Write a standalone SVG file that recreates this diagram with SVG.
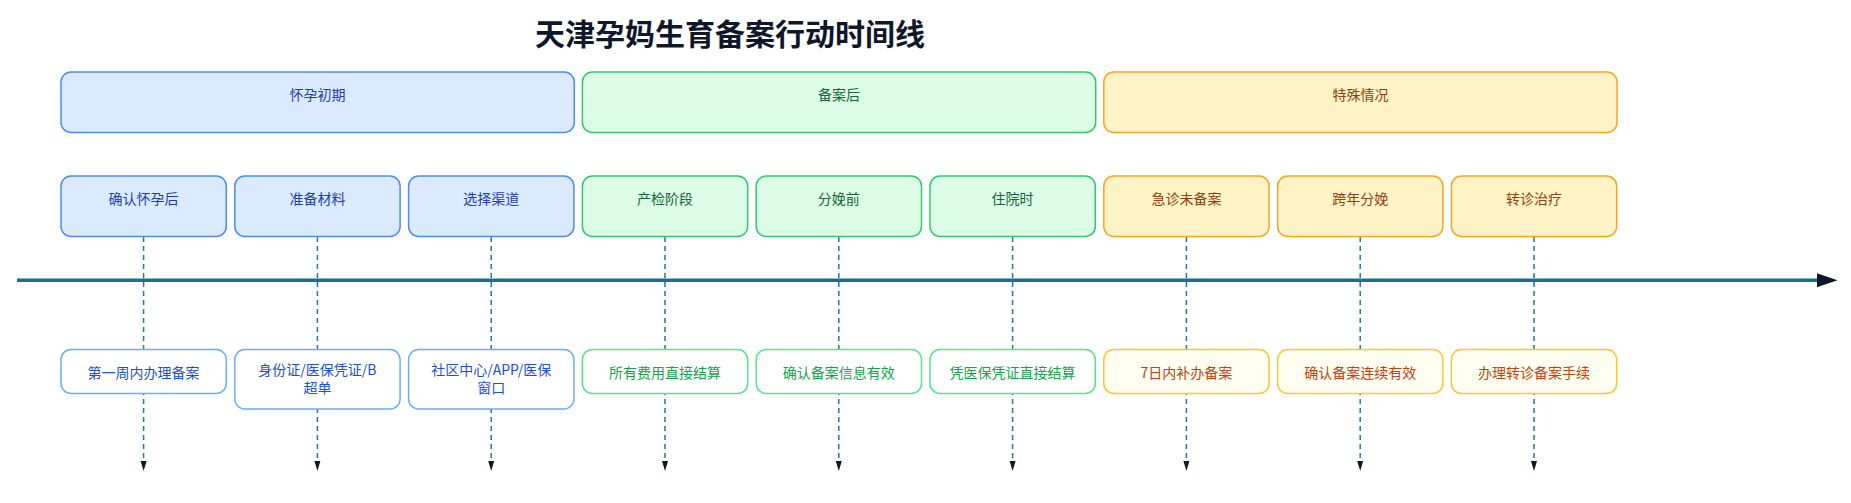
<svg xmlns="http://www.w3.org/2000/svg" width="1851" height="503" viewBox="0 0 1851 503">
<defs>
<style>
text{font-family:"Noto Sans CJK SC","Noto Sans",sans-serif;font-size:14px;text-anchor:middle}
.title{font-size:30px;font-weight:700;fill:#0f172a}
.b rect{fill:#dbeafe;stroke:#4a8df6;stroke-width:1.5}
.b text{fill:#1e40af}
.g rect{fill:#dcfce7;stroke:#2fcb69;stroke-width:1.5}
.g text{fill:#166534}
.o rect{fill:#fef3c7;stroke:#f7a523;stroke-width:1.5}
.o text{fill:#92400e}
.db rect{fill:#ffffff;stroke:#68aefc;stroke-width:1.5}
.db text{fill:#1d4ed8}
.dg rect{fill:#ffffff;stroke:#52e58a;stroke-width:1.5}
.dg text{fill:#16a34a}
.do rect{fill:#fffef0;stroke:#fcc532;stroke-width:1.5}
.do text{fill:#c2410c}
.dash{stroke:#1f7a99;stroke-width:1.5;stroke-dasharray:5 4;fill:none}
.axis{stroke:#17708f;stroke-width:3.5;fill:none}
.head{fill:#0f172a}
</style>
</defs>
<text class="title" x="730" y="45">天津孕妈生育备案行动时间线</text>

<g id="connectors">
<line class="dash" x1="143.6" y1="237" x2="143.6" y2="461"/>
<line class="dash" x1="317.4" y1="237" x2="317.4" y2="461"/>
<line class="dash" x1="491.2" y1="237" x2="491.2" y2="461"/>
<line class="dash" x1="665" y1="237" x2="665" y2="461"/>
<line class="dash" x1="838.8" y1="237" x2="838.8" y2="461"/>
<line class="dash" x1="1012.6" y1="237" x2="1012.6" y2="461"/>
<line class="dash" x1="1186.4" y1="237" x2="1186.4" y2="461"/>
<line class="dash" x1="1360.2" y1="237" x2="1360.2" y2="461"/>
<line class="dash" x1="1534" y1="237" x2="1534" y2="461"/>
<path class="head" d="M140.6,461 h6 l-3,10 z M314.4,461 h6 l-3,10 z M488.2,461 h6 l-3,10 z M662,461 h6 l-3,10 z M835.8,461 h6 l-3,10 z M1009.6,461 h6 l-3,10 z M1183.4,461 h6 l-3,10 z M1357.2,461 h6 l-3,10 z M1531,461 h6 l-3,10 z"/>
<line class="axis" x1="17" y1="280.3" x2="1819" y2="280.3"/>
<path class="head" d="M1817,273.3 L1837.5,280.3 L1817,287.3 Z"/>
</g>

<g id="phase-early" class="b"><rect x="61" y="72" width="513.3" height="60.5" rx="10"/><text x="317.6" y="99.5">怀孕初期</text></g>
<g id="phase-after" class="g"><rect x="582.4" y="72" width="513.3" height="60.5" rx="10"/><text x="839" y="99.5">备案后</text></g>
<g id="phase-special" class="o"><rect x="1103.8" y="72" width="513.3" height="60.5" rx="10"/><text x="1360.4" y="99.5">特殊情况</text></g>

<g id="task-1" class="b"><rect x="61" y="176" width="165.3" height="60.5" rx="10"/><text x="143.6" y="203.5">确认怀孕后</text></g>
<g id="task-2" class="b"><rect x="234.8" y="176" width="165.3" height="60.5" rx="10"/><text x="317.4" y="203.5">准备材料</text></g>
<g id="task-3" class="b"><rect x="408.6" y="176" width="165.3" height="60.5" rx="10"/><text x="491.2" y="203.5">选择渠道</text></g>
<g id="task-4" class="g"><rect x="582.4" y="176" width="165.3" height="60.5" rx="10"/><text x="665" y="203.5">产检阶段</text></g>
<g id="task-5" class="g"><rect x="756.2" y="176" width="165.3" height="60.5" rx="10"/><text x="838.8" y="203.5">分娩前</text></g>
<g id="task-6" class="g"><rect x="930" y="176" width="165.3" height="60.5" rx="10"/><text x="1012.6" y="203.5">住院时</text></g>
<g id="task-7" class="o"><rect x="1103.8" y="176" width="165.3" height="60.5" rx="10"/><text x="1186.4" y="203.5">急诊未备案</text></g>
<g id="task-8" class="o"><rect x="1277.6" y="176" width="165.3" height="60.5" rx="10"/><text x="1360.2" y="203.5">跨年分娩</text></g>
<g id="task-9" class="o"><rect x="1451.4" y="176" width="165.3" height="60.5" rx="10"/><text x="1534" y="203.5">转诊治疗</text></g>

<g id="detail-1" class="db"><rect x="61" y="349.5" width="165.3" height="44" rx="10"/><text x="143.6" y="378">第一周内办理备案</text></g>
<g id="detail-2" class="db"><rect x="234.8" y="349.5" width="165.3" height="59.5" rx="10"/><text x="317.4" y="375">身份证/医保凭证/B</text><text x="317.4" y="393">超单</text></g>
<g id="detail-3" class="db"><rect x="408.6" y="349.5" width="165.3" height="59.5" rx="10"/><text x="491.2" y="375">社区中心/APP/医保</text><text x="491.2" y="393">窗口</text></g>
<g id="detail-4" class="dg"><rect x="582.4" y="349.5" width="165.3" height="44" rx="10"/><text x="665" y="378">所有费用直接结算</text></g>
<g id="detail-5" class="dg"><rect x="756.2" y="349.5" width="165.3" height="44" rx="10"/><text x="838.8" y="378">确认备案信息有效</text></g>
<g id="detail-6" class="dg"><rect x="930" y="349.5" width="165.3" height="44" rx="10"/><text x="1012.6" y="378">凭医保凭证直接结算</text></g>
<g id="detail-7" class="do"><rect x="1103.8" y="349.5" width="165.3" height="44" rx="10"/><text x="1186.4" y="378">7日内补办备案</text></g>
<g id="detail-8" class="do"><rect x="1277.6" y="349.5" width="165.3" height="44" rx="10"/><text x="1360.2" y="378">确认备案连续有效</text></g>
<g id="detail-9" class="do"><rect x="1451.4" y="349.5" width="165.3" height="44" rx="10"/><text x="1534" y="378">办理转诊备案手续</text></g>
</svg>
